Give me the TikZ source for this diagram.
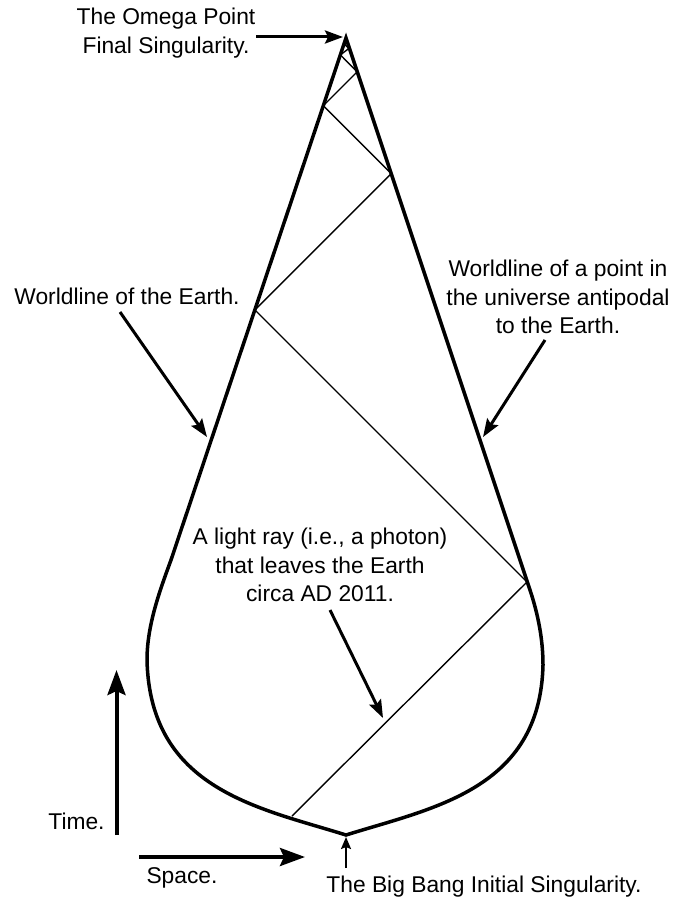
\documentclass[tikz,border=0pt]{standalone}
\usepackage{fontspec}
\setmainfont{Liberation Sans}
\usetikzlibrary{arrows.meta}
\begin{document}
\begin{tikzpicture}[x=1pt,y=-1pt,
  lbl/.style={font=\fontsize{22.8}{28.5}\selectfont, align=center, inner sep=0pt},
  rim/.style={line width=3.5pt},
  ray/.style={line width=1.4pt},
  ptr/.style={line width=3pt, -{Stealth[length=18pt,width=13pt,inset=3pt]}},
  axis/.style={line width=4pt, -{Stealth[length=25pt,width=18pt,inset=4pt]}},
  tiny/.style={line width=2pt, -{Stealth[length=12pt,width=10pt,inset=2pt]}}]
\useasboundingbox (0,0) rectangle (675,901);

% universe outline
\draw[rim] (346,38) -- (171,560)
  .. controls (160,590) and (147,625) .. (147,660)
  .. controls (150,790) and (260,808) .. (346,835)
  .. controls (432,808) and (540,790) .. (543,665)
  .. controls (543,640) and (538.3,615) .. (530,590) -- cycle;

% light ray
\coordinate (r0) at (292,816);
\coordinate (r1) at (527,582);
\coordinate (r2) at (254.9,309.9);
\coordinate (r3) at (391.2,173.6);
\coordinate (r4) at (323.3,105.7);
\coordinate (r5) at (357.2,71.8);
\coordinate (r6) at (340.4,54.9);
\coordinate (r7) at (348.8,48.5);
\coordinate (r8) at (344.1,43.8);
\draw[ray] (r0) -- (r1) -- (r2) -- (r3) -- (r4) -- (r5) -- (r6) -- (r7) -- (r8);

% labels
\node[lbl] (omega) at (166,33) {The Omega Point\\Final Singularity.};
\node[lbl] (earth) at (127,296) {Worldline of the Earth.};
\node[lbl] (anti) at (558,297) {Worldline of a point in\\the universe antipodal\\to the Earth.};
\node[lbl] (light) at (320,565) {A light ray (i.e., a photon)\\that leaves the Earth\\circa AD 2011.};
\node[lbl] (time) at (76.5,821) {Time.};
\node[lbl] (space) at (182,878) {Space.};
\node[lbl] (bang) at (484,887) {The Big Bang Initial Singularity.};

% arrows
\coordinate (omegaA) at (256,37);   \coordinate (omegaB) at (343,37);
\coordinate (earthA) at (120,312);  \coordinate (earthB) at (207,437);
\coordinate (antiA) at (545,340);   \coordinate (antiB) at (483,437);
\coordinate (lightA) at (330,610);  \coordinate (lightB) at (383,718);
\coordinate (timeA) at (116.5,835); \coordinate (timeB) at (116.5,670);
\coordinate (spaceA) at (139,857);  \coordinate (spaceB) at (305,857);
\coordinate (bangA) at (346,868);   \coordinate (bangB) at (346,837);

\draw[ptr] (omegaA) -- (omegaB);
\draw[ptr] (earthA) -- (earthB);
\draw[ptr] (antiA) -- (antiB);
\draw[ptr] (lightA) -- (lightB);
\draw[axis] (timeA) -- (timeB);
\draw[axis] (spaceA) -- (spaceB);
\draw[tiny] (bangA) -- (bangB);
\end{tikzpicture}
\end{document}
